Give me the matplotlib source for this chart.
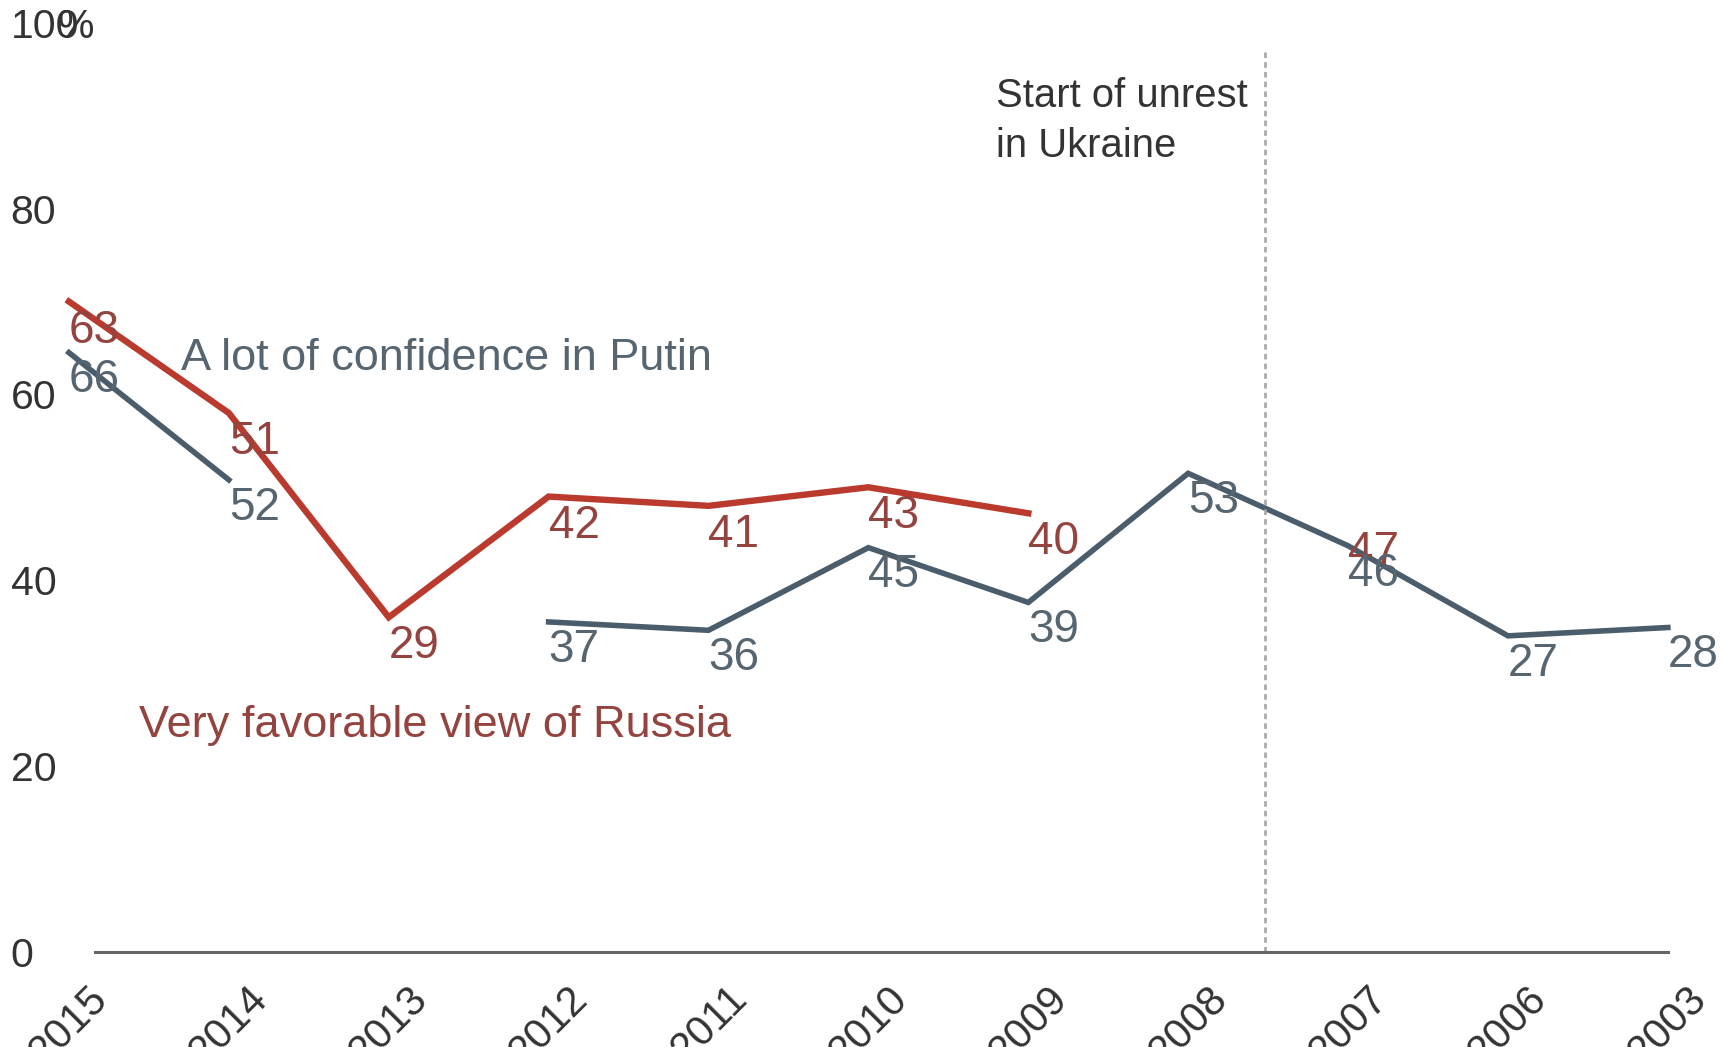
import numpy as np
import matplotlib
matplotlib.use("Agg")
import matplotlib.pyplot as plt
from matplotlib.transforms import ScaledTranslation

plt.rcParams['font.family'] = ['Liberation Sans', 'DejaVu Sans']

years = ['2015', '2014', '2013', '2012', '2011', '2010', '2009', '2008', '2007', '2006', '2003']

# line heights as drawn in the picture (nan = no point)
russia_line = [70, 58, 36, 49, 48, 50, 47.2, np.nan, 46.2, np.nan, np.nan]
putin_line = [64.5, 50.8, np.nan, 35.5, 34.6, 43.5, 37.6, 51.5, 43.7, 34.0, 34.9]

# printed data labels
russia_labels = ['63', '51', '29', '42', '41', '43', '40', '', '47', '', '']
putin_labels = ['66', '52', '', '37', '36', '45', '39', '53', '46', '27', '28']

yticks = [0, 20, 40, 60, 80, 100]

red_line = '#bb3a2e'
red_text = '#94433f'
blue_line = '#4b5d6b'
blue_text = '#56656f'
grey_text = '#333333'

x = np.arange(len(years))

fig = plt.figure(figsize=(17.23, 10.47), dpi=100)
ax = fig.add_axes([0.040, 0.0911, 0.928, 0.887])

ax.plot(x, russia_line, color=red_line, linewidth=4.6, solid_joinstyle='miter', clip_on=False)
ax.plot(x, putin_line, color=blue_line, linewidth=4.0, solid_joinstyle='miter', clip_on=False)

for xi, yi, lab in zip(x, russia_line, russia_labels):
    if lab:
        ax.annotate(lab, (xi, yi), xytext=(0, -21), textcoords='offset points',
                    ha='left', va='center', fontsize=33, color=red_text, clip_on=False)
for xi, yi, lab in zip(x, putin_line, putin_labels):
    if lab:
        ax.annotate(lab, (xi, yi), xytext=(0, -20), textcoords='offset points',
                    ha='left', va='center', fontsize=33, color=blue_text, clip_on=False)

ax.text(0.70, 63.9, 'A lot of confidence in Putin', fontsize=32.5, color=blue_text,
        ha='left', va='center')
ax.text(0.44, 24.4, 'Very favorable view of Russia', fontsize=32.5, color=red_text,
        ha='left', va='center')

# marker for the start of the unrest
ax.plot([7.48, 7.48], [0, 97.2], color='#aaaaaa', linewidth=2, linestyle=(0, (2, 1.5)))
ax.text(5.8, 89.4, 'Start of unrest\nin Ukraine', fontsize=28.8, color=grey_text,
        ha='left', va='center', linespacing=1.4)

ax.set_xlim(0, 10)
ax.set_ylim(0, 100)

for s in ['top', 'right', 'left']:
    ax.spines[s].set_visible(False)
ax.spines['bottom'].set_bounds(0.165, 10)
ax.spines['bottom'].set_color('#666666')
ax.spines['bottom'].set_linewidth(2.2)

ax.set_yticks(yticks)
ax.set_yticklabels([str(v) for v in yticks], fontsize=29.5, color=grey_text, ha='left')
ax.tick_params(axis='y', length=0, pad=42)

ax.set_xticks(x)
ax.set_xticklabels(years, fontsize=30, color=grey_text, rotation=45, ha='right',
                   va='top', rotation_mode='anchor')
ax.tick_params(axis='x', length=0, pad=22)
shift = ScaledTranslation(19 / 100, 4 / 100, fig.dpi_scale_trans)
for lab in ax.get_xticklabels():
    lab.set_transform(lab.get_transform() + shift)

fig.text(57 / 1723, 1 - 23 / 1047, '%', fontsize=29.5, color=grey_text,
         ha='left', va='center_baseline')

plt.savefig('out.png', dpi=100)
plt.close()
